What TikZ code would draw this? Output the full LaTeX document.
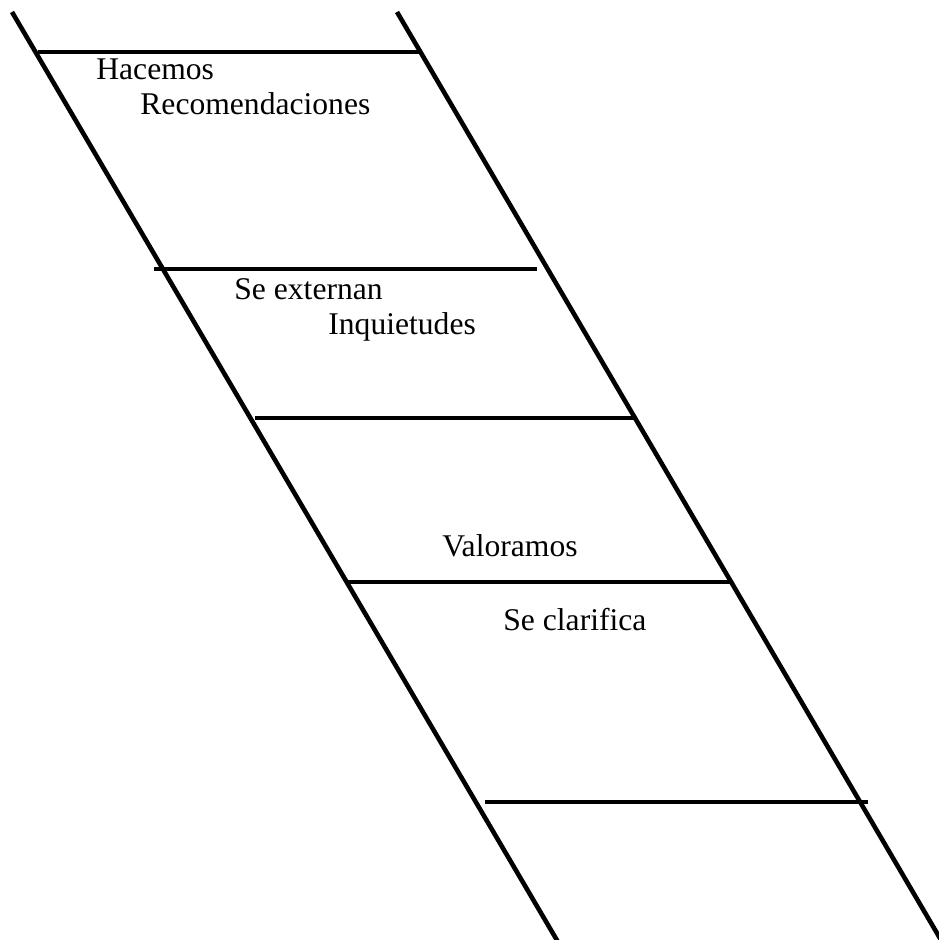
\documentclass[tikz,border=0pt]{standalone}
\usepackage{fontspec}
\setmainfont{Liberation Serif}
\newfontfamily\labelfont{Liberation Serif}
\usetikzlibrary{positioning}
\tikzstyle{rail}=[black, line width=2.3pt]
\tikzstyle{rung}=[black, line width=2.3pt]
\tikzstyle{steplabel}=[black, shape=rectangle, anchor=base west, inner sep=0pt, font=\labelfont\fontsize{15.8}{18}\selectfont]

\begin{document}
\begin{tikzpicture}[x=0.5pt, y=-0.5pt]
\useasboundingbox (0,0) rectangle (938,940);

% rails
\coordinate (lefttop) at (12,12);
\coordinate (leftbot) at (558,942);
\coordinate (righttop) at (397,12);
\coordinate (rightbot) at (941,940);
\draw[rail] (lefttop) -- (leftbot);
\draw[rail] (righttop) -- (rightbot);

% rungs
\coordinate (r1a) at (38,52);  \coordinate (r1b) at (420,52);
\coordinate (r2a) at (154,269); \coordinate (r2b) at (537,269);
\coordinate (r3a) at (255,418); \coordinate (r3b) at (636,418);
\coordinate (r4a) at (348,582); \coordinate (r4b) at (733,582);
\coordinate (r5a) at (485,802); \coordinate (r5b) at (868,802);
\foreach \r in {1,...,5}
  \draw[rung] (r\r a) -- (r\r b);

% labels
\node [steplabel] (hacemos) at (96,80) {Hacemos};
\node [steplabel] (recom) at (140,115) {Recomendaciones};
\node [steplabel] (externan) at (234,300) {Se externan};
\node [steplabel] (inquiet) at (328,335) {Inquietudes};
\node [steplabel] (valoramos) at (442,556) {Valoramos};
\node [steplabel] (clarifica) at (503,630) {Se clarifica};
\end{tikzpicture}
\end{document}
